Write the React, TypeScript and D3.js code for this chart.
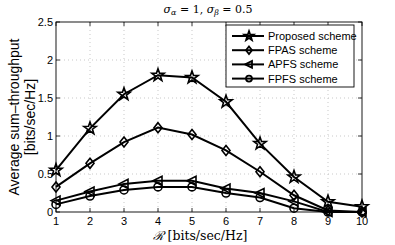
import React, { useRef, useEffect } from 'react'
import * as d3 from 'd3'

const xTicks = [1, 2, 3, 4, 5, 6, 7, 8, 9, 10]
const yTicks = [0, 0.5, 1, 1.5, 2, 2.5]
const rates = [1, 2, 3, 4, 5, 6, 7, 8, 9, 10]
const proposed = [0.55, 1.1, 1.55, 1.8, 1.77, 1.45, 0.9, 0.46, 0.135, 0.07]
const fpas = [0.33, 0.64, 0.92, 1.11, 1.02, 0.81, 0.53, 0.22, 0.02, 0.0]
const apfs = [0.15, 0.27, 0.37, 0.41, 0.41, 0.31, 0.25, 0.14, 0.0, 0.0]
const fpfs = [0.1, 0.21, 0.29, 0.33, 0.33, 0.25, 0.19, 0.05, 0.0, 0.0]
const seriesNames = ['Proposed scheme', 'FPAS scheme', 'APFS scheme', 'FPFS scheme']
const markers = ['star', 'diamond', 'triangle', 'circle']

function markerPath(kind: string, s = 1) {
  if (kind === 'star') {
    const pts: [number, number][] = []
    for (let i = 0; i < 10; i++) {
      const r = (i % 2 === 0 ? 6.5 : 2.6) * s
      const a = -Math.PI / 2 + (i * Math.PI) / 5
      pts.push([r * Math.cos(a), r * Math.sin(a)])
    }
    return 'M' + pts.map(p => p.join(',')).join('L') + 'Z'
  }
  if (kind === 'diamond') return `M0,${-5 * s}L${4 * s},0L0,${5 * s}L${-4 * s},0Z`
  if (kind === 'triangle') return `M${-5 * s},0L${4 * s},${-4.5 * s}L${4 * s},${4.5 * s}Z`
  const r = 4 * s
  return `M${r},0A${r},${r} 0 1,1 ${-r},0A${r},${r} 0 1,1 ${r},0Z`
}

export default function App() {
  const svgRef = useRef<SVGSVGElement>(null)

  useEffect(() => {
    const svg = d3.select(svgRef.current)
    svg.selectAll('*').remove()
    const width = 395, height = 245
    const margin = { top: 22, right: 33, bottom: 33, left: 56 }
    const w = width - margin.left - margin.right
    const h = height - margin.top - margin.bottom
    const font = 'Liberation Sans, Arial, sans-serif'

    svg.attr('width', width).attr('height', height)
    svg.append('rect').attr('width', width).attr('height', height).attr('fill', '#fff')

    const g = svg.append('g').attr('transform', `translate(${margin.left},${margin.top})`)
    const x = d3.scaleLinear().domain([1, 10]).range([0, w])
    const y = d3.scaleLinear().domain([0, 2.5]).range([h, 0])

    // grid
    g.selectAll('.gx').data(xTicks.slice(1, -1)).join('line')
      .attr('x1', d => x(d)).attr('x2', d => x(d)).attr('y1', 0).attr('y2', h)
      .attr('stroke', '#bbb').attr('stroke-width', 0.8).attr('stroke-dasharray', '1 3')
    g.selectAll('.gy').data(yTicks.slice(1, -1)).join('line')
      .attr('y1', d => y(d)).attr('y2', d => y(d)).attr('x1', 0).attr('x2', w)
      .attr('stroke', '#bbb').attr('stroke-width', 0.8).attr('stroke-dasharray', '1 3')

    // ticks (inward, both sides)
    const ax = g.append('g').attr('stroke', '#000').attr('stroke-width', 0.8)
    xTicks.forEach(t => {
      ax.append('line').attr('x1', x(t)).attr('x2', x(t)).attr('y1', h).attr('y2', h - 4)
      ax.append('line').attr('x1', x(t)).attr('x2', x(t)).attr('y1', 0).attr('y2', 4)
    })
    yTicks.forEach(t => {
      ax.append('line').attr('y1', y(t)).attr('y2', y(t)).attr('x1', 0).attr('x2', 4)
      ax.append('line').attr('y1', y(t)).attr('y2', y(t)).attr('x1', w).attr('x2', w - 4)
    })

    g.selectAll('.xl').data(xTicks).join('text')
      .attr('x', d => x(d)).attr('y', h + 13).attr('text-anchor', 'middle')
      .attr('font-family', font).attr('font-size', '11px').text(d => d)
    g.selectAll('.yl').data(yTicks).join('text')
      .attr('x', -3).attr('y', d => y(d) + 4).attr('text-anchor', 'end')
      .attr('font-family', font).attr('font-size', '11px').text(d => d)

    // series
    const all = [proposed, fpas, apfs, fpfs]
    const line = d3.line<number>().x((_, i) => x(rates[i])).y(d => y(d))
    all.forEach((vals, si) => {
      g.append('path').attr('d', line(vals)).attr('fill', 'none')
        .attr('stroke', '#000').attr('stroke-width', 2)
      g.selectAll(`.m${si}`).data(vals).join('path')
        .attr('transform', (d, i) => `translate(${x(rates[i])},${y(d)})`)
        .attr('d', markerPath(markers[si]))
        .attr('fill', 'none').attr('stroke', '#000').attr('stroke-width', 1.6)
    })

    // frame
    g.append('rect').attr('width', w).attr('height', h).attr('fill', 'none')
      .attr('stroke', '#000').attr('stroke-width', 0.9)

    // legend
    const lg = svg.append('g').attr('transform', 'translate(226,25)')
    lg.append('rect').attr('width', 128).attr('height', 62).attr('fill', '#fff')
      .attr('stroke', '#000').attr('stroke-width', 0.9)
    seriesNames.forEach((name, i) => {
      const yy = 11 + i * 14.2
      lg.append('line').attr('x1', 6).attr('x2', 38).attr('y1', yy).attr('y2', yy)
        .attr('stroke', '#000').attr('stroke-width', 2)
      lg.append('path').attr('transform', `translate(23,${yy})`).attr('d', markerPath(markers[i], 0.75))
        .attr('fill', 'none').attr('stroke', '#000').attr('stroke-width', 1.8)
      lg.append('text').attr('x', 42).attr('y', yy + 4).attr('font-family', font)
        .attr('font-size', '11px').text(name)
    })

    // title
    const title = svg.append('text').attr('x', 208).attr('y', 13).attr('text-anchor', 'middle')
      .attr('font-family', 'DejaVu Serif, serif').attr('font-size', '11px')
    title.append('tspan').attr('font-style', 'italic').text('σ')
    title.append('tspan').attr('font-style', 'italic').attr('font-size', '8px').attr('dy', 2).text('α')
    title.append('tspan').attr('dy', -2).text(' = 1, ')
    title.append('tspan').attr('font-style', 'italic').text('σ')
    title.append('tspan').attr('font-style', 'italic').attr('font-size', '8px').attr('dy', 2).text('β')
    title.append('tspan').attr('dy', -2).text(' = 0.5')

    // axis labels
    const xl = svg.append('text').attr('x', 200).attr('y', 240).attr('text-anchor', 'middle')
      .attr('font-family', 'DejaVu Serif, serif').attr('font-size', '12.5px')
    xl.append('tspan').attr('font-style', 'italic').text('ℛ')
    xl.append('tspan').text(' [bits/sec/Hz]')

    const yl = svg.append('text').attr('transform', `translate(19,${margin.top + h / 2}) rotate(-90)`)
      .attr('text-anchor', 'middle').attr('font-family', font).attr('font-size', '14px')
    yl.append('tspan').attr('x', 0).attr('dy', 0).text('Average sum–throughput')
    yl.append('tspan').attr('x', 0).attr('dy', 16).text('[bits/sec/Hz]')
  }, [])

  return <svg ref={svgRef} style={{ position: 'absolute', left: 0, top: 0 }} />
}
